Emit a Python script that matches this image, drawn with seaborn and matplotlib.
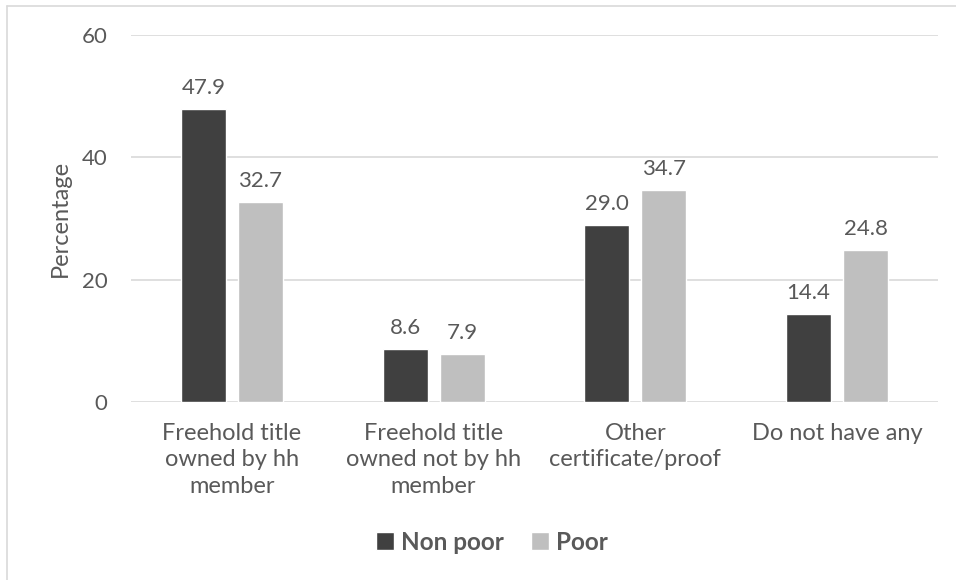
import matplotlib
matplotlib.use("Agg")
import matplotlib.pyplot as plt
import seaborn as sns
import pandas as pd
from matplotlib.lines import Line2D

categories = ["Freehold title\nowned by hh\nmember", "Freehold title\nowned not by hh\nmember",
              "Other\ncertificate/proof", "Do not have any"]
non_poor = [47.9, 8.6, 29.0, 14.4]
poor = [32.7, 7.9, 34.7, 24.8]
series = ["Non poor", "Poor"]
yticks = [0, 20, 40, 60]

df = pd.DataFrame({
    "category": categories * 2,
    "value": non_poor + poor,
    "group": [series[0]] * 4 + [series[1]] * 4,
})

sns.set_theme(style="white")
plt.rcParams["font.family"] = ["Lato", "DejaVu Sans"]
text_color = "#595959"

fig = plt.figure(figsize=(9.56, 5.8), dpi=100)
ax = fig.add_axes([131/956, 1 - 402/580, (938 - 131)/956, (402 - 35)/580])

sns.barplot(data=df, x="category", y="value", hue="group", order=categories,
            hue_order=series, palette=["#404040", "#bfbfbf"], width=0.566, gap=0.21,
            saturation=1, ax=ax, legend=True, errorbar=None)

for cont in ax.containers:
    ax.bar_label(cont, fmt="%.1f", padding=8, fontsize=16, color=text_color)

ax.set_ylim(0, 60)
ax.set_yticks(yticks)
ax.set_xlim(-0.5, 3.5)
ax.yaxis.grid(True, color="#d9d9d9", linewidth=1.2)
ax.set_axisbelow(True)
for s in ax.spines.values():
    s.set_visible(False)
ax.tick_params(axis="both", length=0, labelsize=16, colors=text_color)
ax.tick_params(axis="x", labelsize=17, pad=15)
ax.tick_params(axis="y", pad=17)
for lbl in ax.get_xticklabels():
    lbl.set_linespacing(1.32)
ax.set_xlabel("")
ax.set_ylabel("Percentage", fontsize=17, color=text_color, labelpad=8)

leg = ax.legend(loc="center", bbox_to_anchor=(492/956, 1 - 542/580), bbox_transform=fig.transFigure,
                ncol=2, frameon=False, fontsize=17.5, handlelength=0.75, handleheight=0.75,
                handletextpad=0.3, columnspacing=1.1)
for t in leg.get_texts():
    t.set_color(text_color)
    t.set_fontweight("bold")

# outer frame (partially cropped)
fig.add_artist(Line2D([7/956, 7/956], [0, 1 - 6/580], transform=fig.transFigure, color="#d9d9d9", lw=1.2))
fig.add_artist(Line2D([7/956, 1], [1 - 6/580, 1 - 6/580], transform=fig.transFigure, color="#d9d9d9", lw=1.2))

fig.savefig("out.png", dpi=100)
